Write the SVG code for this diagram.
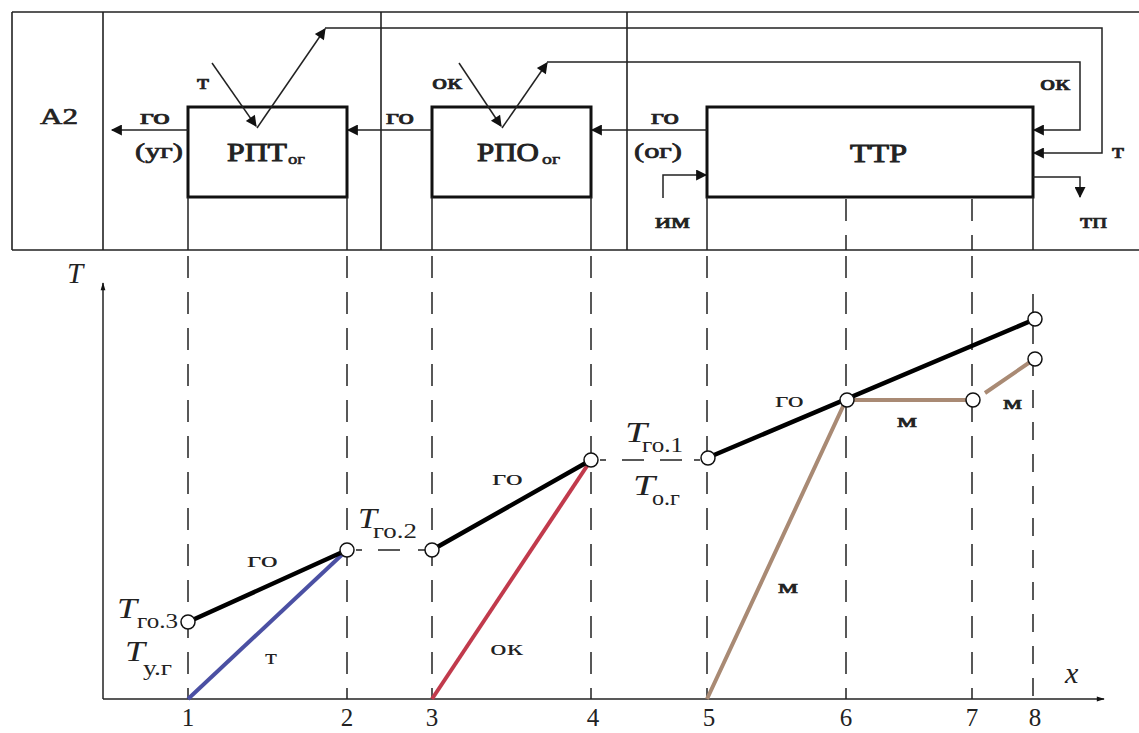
<svg xmlns="http://www.w3.org/2000/svg" width="1139" height="733" viewBox="0 0 1139 733">
<defs>
<marker id="ah" viewBox="0 0 10 10" refX="9" refY="5" markerWidth="15" markerHeight="11" markerUnits="userSpaceOnUse" orient="auto"><path d="M0,0 L10,5 L0,10 z" fill="#111"/></marker>
<marker id="ax" viewBox="0 0 10 10" refX="9" refY="5" markerWidth="14" markerHeight="8" markerUnits="userSpaceOnUse" orient="auto"><path d="M0,2 L10,5 L0,8 z" fill="#111"/></marker>
</defs>
<style>
.frame{stroke:#222;stroke-width:1.6;fill:none}
.box{stroke:#111;stroke-width:3;fill:#fff}
.ln{stroke:#222;stroke-width:1.5;fill:none}
.dash{stroke:#222;stroke-width:1.5;fill:none;stroke-dasharray:22 14}
.blk{stroke:#000;stroke-width:4.5;fill:none}
.pt{fill:#fff;stroke:#111;stroke-width:1.5}
text{font-family:"Liberation Serif","DejaVu Serif","Times New Roman",serif;fill:#222}
.lb{font-size:21px;stroke:#222;stroke-width:0.7}
.bx{font-size:25px;stroke:#222;stroke-width:0.9}
.sub{font-size:15px;stroke:#222;stroke-width:0.6}
.num{font-size:25px;text-anchor:middle}
.it{font-style:italic;font-size:29px}
.gs{font-size:20px;font-style:normal}
.gm{font-size:18px;stroke:#222;stroke-width:0.6}
</style>
<rect width="1139" height="733" fill="#fff"/>
<g id="frame">
<path class="frame" d="M12,12 H1139 M12,250 H1139 M12,12 V250 M103,12 V250 M381,12 V250 M627,12 V250"/>
<text class="lb" x="40" y="124" style="font-size:24px" textLength="38" lengthAdjust="spacingAndGlyphs">A2</text>
</g>
<g id="node-rpt">
<rect class="box" x="188" y="107" width="159" height="90"/>
<text class="bx" x="227" y="161" textLength="60" lengthAdjust="spacingAndGlyphs">РПТ</text>
<text class="sub" x="288" y="164" textLength="17" lengthAdjust="spacingAndGlyphs">ог</text>
</g>
<g id="node-rpo">
<rect class="box" x="432" y="107" width="159" height="90"/>
<text class="bx" x="477" y="161" textLength="62" lengthAdjust="spacingAndGlyphs">РПО</text>
<text class="sub" x="542" y="164" textLength="18" lengthAdjust="spacingAndGlyphs">ог</text>
</g>
<g id="node-ttr">
<rect class="box" x="707" y="107" width="326" height="90"/>
<text class="bx" x="850" y="162" textLength="57" lengthAdjust="spacingAndGlyphs">ТТР</text>
</g>
<g id="connectors">
<path class="ln" d="M188,130 H112" marker-end="url(#ah)"/>
<path class="ln" d="M432,130 H348" marker-end="url(#ah)"/>
<path class="ln" d="M707,130 H592" marker-end="url(#ah)"/>
<path class="ln" d="M212,63 L256,126" marker-end="url(#ah)"/>
<path class="ln" d="M257,128 L325,29" marker-end="url(#ah)"/>
<path class="ln" d="M325,28 H1102 V153 H1034" marker-end="url(#ah)"/>
<path class="ln" d="M459,63 L501,126" marker-end="url(#ah)"/>
<path class="ln" d="M502,128 L547,63" marker-end="url(#ah)"/>
<path class="ln" d="M547,62 H1080 V130 H1034" marker-end="url(#ah)"/>
<path class="ln" d="M663,198 V175 H706" marker-end="url(#ah)"/>
<path class="ln" d="M1033,177 H1080 V197" marker-end="url(#ah)"/>
<text class="lb" x="140" y="124" textLength="30" lengthAdjust="spacingAndGlyphs">го</text>
<text class="lb" x="135" y="158" textLength="48" lengthAdjust="spacingAndGlyphs">(уг)</text>
<text class="lb" x="386" y="124" textLength="28" lengthAdjust="spacingAndGlyphs">го</text>
<text class="lb" x="651" y="124" textLength="28" lengthAdjust="spacingAndGlyphs">го</text>
<text class="lb" x="634" y="158" textLength="48" lengthAdjust="spacingAndGlyphs">(ог)</text>
<text class="lb" x="197" y="89" textLength="12" lengthAdjust="spacingAndGlyphs">т</text>
<text class="lb" x="432" y="89" textLength="30" lengthAdjust="spacingAndGlyphs">ок</text>
<text class="lb" x="1040" y="90" textLength="30" lengthAdjust="spacingAndGlyphs">ок</text>
<text class="lb" x="1112" y="158" textLength="12" lengthAdjust="spacingAndGlyphs">т</text>
<text class="lb" x="655" y="228" textLength="35" lengthAdjust="spacingAndGlyphs">им</text>
<text class="lb" x="1080" y="228" textLength="27" lengthAdjust="spacingAndGlyphs">тп</text>
</g>
<g id="guides">
<path class="ln" d="M188,197 V250 M347,197 V250 M432,197 V250 M591,197 V250 M707,197 V250 M1033,197 V250"/>
<path class="dash" d="M846,199 V250 M972,199 V250"/>
<path class="dash" d="M188,256 V699 M347,256 V699 M432,256 V699 M591,256 V699 M707,256 V699 M846,256 V699 M972,256 V699"/>
<path class="dash" d="M1033,294 V699" style="stroke-dasharray:18 14"/>
<path class="ln" d="M356,550 H362 M378,550 H400 M418,550 H425 M600,460 H606 M622,460 H644 M660,460 H682 M694,460 H700"/>
</g>
<g id="axes">
<path class="ln" d="M103,699 V283" marker-end="url(#ax)"/>
<path class="ln" d="M103,699 H1104" marker-end="url(#ax)"/>
<text class="it" x="67" y="283">T</text>
<text class="it" x="1065" y="683" style="font-size:30px">x</text>
<text class="num" x="188" y="726">1</text>
<text class="num" x="347" y="726">2</text>
<text class="num" x="432" y="726">3</text>
<text class="num" x="593" y="726">4</text>
<text class="num" x="709" y="726">5</text>
<text class="num" x="846" y="726">6</text>
<text class="num" x="972" y="726">7</text>
<text class="num" x="1035" y="726">8</text>
</g>
<g id="curves">
<path d="M188,699 L347,550" stroke="#4b50a3" stroke-width="4" fill="none"/>
<path d="M432,699 L591,460" stroke="#c13a4c" stroke-width="4" fill="none"/>
<path d="M707,699 L846,400 H972 M985,393 L1033,360" stroke="#a98a74" stroke-width="4" fill="none"/>
<path class="blk" d="M188,622 L347,550 M432,550 L591,460 M707,458 L1033,320"/>
<circle class="pt" cx="188" cy="622" r="7"/>
<circle class="pt" cx="347" cy="550" r="7"/>
<circle class="pt" cx="432" cy="550" r="7"/>
<circle class="pt" cx="591" cy="460" r="7"/>
<circle class="pt" cx="708" cy="458" r="7"/>
<circle class="pt" cx="847" cy="400" r="7"/>
<circle class="pt" cx="973" cy="400" r="7"/>
<circle class="pt" cx="1035" cy="319" r="7"/>
<circle class="pt" cx="1035" cy="359" r="7"/>
<text class="gs" x="247" y="567" textLength="31" lengthAdjust="spacingAndGlyphs">го</text>
<text class="gs" x="265" y="664" textLength="12" lengthAdjust="spacingAndGlyphs">т</text>
<text class="gs" x="490" y="655" textLength="33" lengthAdjust="spacingAndGlyphs">ок</text>
<text class="gs" x="492" y="485" textLength="31" lengthAdjust="spacingAndGlyphs">го</text>
<text class="gs" x="775" y="407" textLength="29" lengthAdjust="spacingAndGlyphs">го</text>
<text class="gm" x="778" y="593" textLength="20" lengthAdjust="spacingAndGlyphs">м</text>
<text class="gm" x="897" y="427" textLength="20" lengthAdjust="spacingAndGlyphs">м</text>
<text class="gm" x="1003" y="409" textLength="19" lengthAdjust="spacingAndGlyphs">м</text>
<text class="it" x="117" y="618" textLength="20" lengthAdjust="spacingAndGlyphs">T</text>
<text class="gs" x="137" y="628" textLength="41" lengthAdjust="spacingAndGlyphs">го.3</text>
<text class="it" x="125" y="661" textLength="20" lengthAdjust="spacingAndGlyphs">T</text>
<text class="gs" x="143" y="675" textLength="29" lengthAdjust="spacingAndGlyphs">у.г</text>
<text class="it" x="358" y="528" textLength="19" lengthAdjust="spacingAndGlyphs">T</text>
<text class="gs" x="373" y="538" textLength="44" lengthAdjust="spacingAndGlyphs">го.2</text>
<text class="it" x="625" y="442" textLength="22" lengthAdjust="spacingAndGlyphs">T</text>
<text class="gs" x="642" y="452" textLength="41" lengthAdjust="spacingAndGlyphs">го.1</text>
<text class="it" x="633" y="495" textLength="22" lengthAdjust="spacingAndGlyphs">T</text>
<text class="gs" x="652" y="505" textLength="28" lengthAdjust="spacingAndGlyphs">о.г</text>
</g>
</svg>
